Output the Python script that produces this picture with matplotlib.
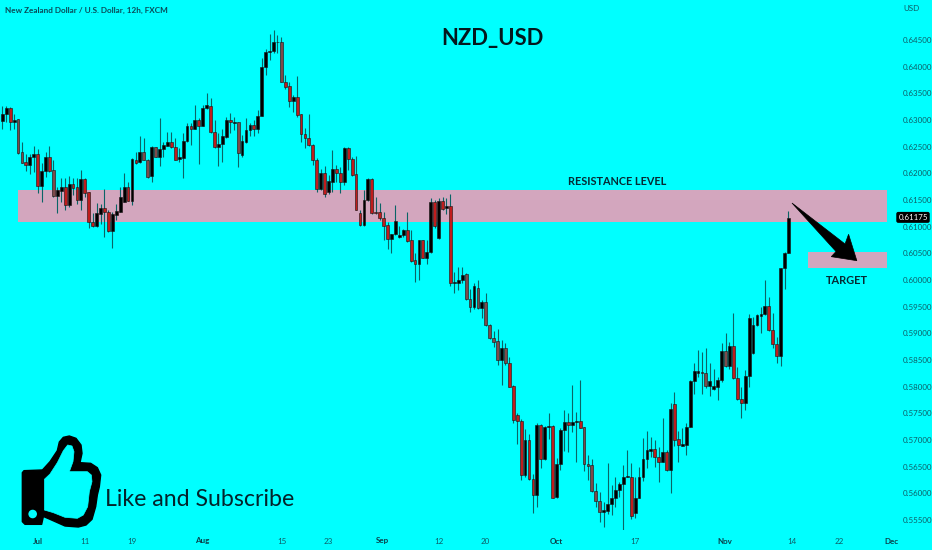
import numpy as np
import matplotlib
matplotlib.use("Agg")
import matplotlib.pyplot as plt
from matplotlib.patches import Polygon, Rectangle, Circle
from matplotlib.transforms import blended_transform_factory

# Prices in pips (1/10000 of a dollar), one candle every 12h
opens = [6298,6311,6322,6297,6302,6240,6221,6216,6231,6237,
6177,6204,6230,6206,6157,6167,6174,6141,6181,6174,
6151,6189,6165,6109,6101,6124,6136,6127,6092,6122,
6128,6147,6174,6149,6226,6221,6241,6226,6195,6249,
6231,6246,6252,6259,6250,6227,6229,6261,6289,6284,
6301,6289,6322,6327,6277,6249,6256,6269,6301,6295,
6296,6234,6259,6281,6290,6283,6308,6400,6427,6429,
6446,6447,6372,6364,6336,6344,6311,6274,6267,6254,
6226,6171,6200,6165,6184,6209,6200,6183,6247,6227,
6198,6125,6103,6150,6190,6128,6127,6117,6103,6077,
6086,6080,6084,6093,6075,6037,6030,6075,6041,6053,
6146,6078,6149,6136,6139,5994,5994,6000,6011,5964,
5950,5985,5947,5959,5916,5891,5885,5850,5873,5844,
5801,5746,5736,5634,5700,5626,5596,5728,5664,5725,
5726,5594,5655,5719,5733,5728,5734,5736,5724,5655,
5653,5605,5586,5565,5567,5580,5592,5606,5617,5631,
5631,5564,5592,5631,5664,5680,5683,5668,5659,5678,
5644,5768,5701,5689,5691,5725,5811,5826,5827,5826,
5802,5795,5800,5812,5867,5839,5876,5817,5777,5770,
5821,5864,5916,5933,5936,5952,5906,5880,5858,6022,
6051]
closes = [6312,6322,6297,6301,6239,6220,6216,6231,6237,6177,
6205,6230,6205,6158,6168,6174,6141,6181,6173,6151,
6189,6164,6109,6101,6125,6136,6127,6092,6124,6130,
6156,6174,6149,6227,6219,6241,6226,6194,6249,6231,
6246,6253,6259,6249,6226,6230,6261,6289,6284,6301,
6289,6322,6328,6277,6249,6256,6270,6301,6297,6297,
6239,6260,6281,6290,6283,6308,6400,6427,6429,6446,
6447,6372,6362,6336,6344,6309,6274,6267,6254,6226,
6171,6200,6162,6185,6209,6200,6183,6247,6227,6197,
6132,6103,6151,6189,6125,6125,6116,6101,6077,6086,
6110,6084,6094,6074,6036,6030,6075,6042,6053,6146,
6102,6148,6134,6139,5995,5996,6000,6009,5964,5950,
5988,5947,5958,5916,5891,5884,5851,5872,5844,5800,
5737,5736,5634,5700,5626,5596,5728,5665,5725,5726,
5592,5655,5719,5733,5728,5734,5736,5723,5655,5651,
5604,5586,5565,5569,5580,5592,5606,5617,5631,5632,
5558,5592,5631,5664,5681,5683,5668,5659,5677,5644,
5758,5700,5691,5692,5725,5811,5830,5830,5826,5802,
5811,5801,5812,5867,5839,5876,5817,5776,5770,5821,
5928,5916,5934,5936,5952,5906,5880,5858,6022,6051,
6117]
highs = [6326,6326,6324,6312,6302,6259,6237,6236,6252,6245,
6219,6241,6252,6226,6175,6191,6191,6195,6192,6192,
6206,6192,6166,6126,6145,6142,6171,6131,6128,6142,
6175,6200,6184,6228,6241,6271,6266,6227,6251,6250,
6303,6259,6278,6278,6267,6247,6276,6294,6294,6328,
6303,6328,6351,6342,6301,6275,6284,6306,6314,6306,
6297,6272,6303,6294,6301,6319,6416,6433,6462,6469,
6459,6455,6384,6372,6347,6382,6312,6286,6312,6256,
6228,6209,6214,6197,6244,6216,6212,6250,6250,6231,
6232,6132,6169,6191,6191,6156,6145,6128,6109,6087,
6141,6101,6095,6128,6094,6050,6076,6076,6076,6153,
6150,6153,6156,6153,6161,6016,6024,6025,6014,5984,
5994,6001,5962,5975,5918,5904,5909,5888,5882,5855,
5803,5750,5739,5720,5712,5637,5731,5730,5726,5750,
5728,5666,5722,5757,5751,5804,5753,5813,5725,5672,
5664,5619,5603,5584,5656,5616,5631,5622,5653,5681,
5657,5631,5650,5704,5717,5706,5700,5687,5741,5681,
5770,5791,5716,5722,5731,5812,5844,5869,5866,5872,
5844,5834,5819,5882,5901,5884,5939,5837,5799,5831,
5936,5931,5936,5950,6000,5969,5938,5894,6023,6053,
6130]
lows = [6284,6297,6281,6283,6237,6219,6205,6199,6203,6164,
6147,6194,6203,6156,6125,6147,6131,6137,6159,6142,
6131,6156,6097,6099,6100,6106,6081,6091,6061,6112,
6127,6146,6148,6141,6217,6219,6225,6192,6184,6230,
6214,6231,6251,6247,6225,6221,6192,6259,6253,6283,
6217,6288,6321,6276,6247,6214,6222,6267,6276,6281,
6212,6230,6257,6270,6270,6275,6307,6384,6412,6425,
6425,6371,6359,6325,6316,6306,6259,6247,6251,6216,
6166,6169,6156,6162,6166,6184,6164,6178,6206,6196,
6131,6101,6102,6149,6124,6124,6112,6075,6059,6050,
6084,6078,6081,6072,6034,5997,6001,6041,6031,6050,
6097,6077,6131,6124,5989,5976,5981,5994,5963,5941,
5945,5946,5928,5914,5889,5875,5841,5804,5841,5799,
5731,5692,5625,5631,5625,5564,5574,5647,5662,5702,
5591,5592,5644,5679,5678,5715,5659,5722,5641,5625,
5603,5574,5547,5536,5562,5559,5575,5594,5528,5630,
5551,5553,5591,5624,5647,5669,5650,5622,5658,5641,
5600,5688,5658,5688,5672,5724,5787,5819,5787,5797,
5783,5794,5775,5809,5837,5834,5814,5775,5741,5756,
5800,5862,5914,5900,5934,5905,5872,5844,5839,5984,
6050]
faded_candles = [4,5,13,36,37,39,60,71,118,119,121,123,124,125,126,128,148,149,150,151,152,179,184]

xtick_pos = [9.1,21.0,33.0,50.8,71.1,82.9,96.7,111,122.8,140.9,161,183.8,200.9,212.9,226.3]
xtick_labels = ["Jul","11","19","Aug","15","23","Sep","12","20","Oct","17","Nov","14","22","Dec"]
month_labels = {"Jul","Aug","Sep","Oct","Nov","Dec"}
ytick_vals = [0.555+0.005*k for k in range(19)]

resistance = (0.61688, 0.61094)
target = (0.60526, 0.60231)
last_price = 0.61175

BG = "#00FFFF"
plt.rcParams["font.family"] = ["Lato", "DejaVu Sans"]

O, H, L, C = [np.array(a) / 1e4 for a in (opens, highs, lows, closes)]
x = np.arange(len(O))

fig = plt.figure(figsize=(9.32, 5.5), dpi=100, facecolor=BG)
ax = fig.add_axes([0, 20 / 550, 893 / 932, 530 / 550], facecolor=BG)
ax.set_xlim(-0.585, 226.6)
ax.set_ylim(0.55313, 0.65251)
for s in ax.spines.values():
    s.set_visible(False)

# Zones
ax.add_patch(Rectangle((4.0, resistance[1]), 221.0, resistance[0] - resistance[1],
                       fc="#D3A6BE", ec="none", zorder=1))
ax.add_patch(Rectangle((205.1, target[1]), 19.9, target[0] - target[1],
                       fc="#D3A6BE", ec="none", zorder=1))

# Candles
ax.vlines(x, L, H, color="#0A6466", lw=0.8, zorder=2)
down = C < O
colors = np.where(down, "#C01C1C", "#000000").astype(object)
colors[faded_candles] = "#7E4A4A"
ax.bar(x, np.abs(C - O), bottom=np.minimum(O, C), width=0.72, color=list(colors),
       edgecolor="#181010", linewidth=0.4, zorder=3)

# Arrow
arrow_x = [200.9, 214.4, 215.3, 217.4, 210.9, 212.1]
arrow_y = [0.61444, 0.60676, 0.60858, 0.60363, 0.60438, 0.60535]
ax.add_patch(Polygon(np.column_stack([arrow_x, arrow_y]), closed=True, fc="black", ec="black",
                     lw=0.5, zorder=5))

# Axes labels
ax.set_xticks(xtick_pos)
ax.set_xticklabels(xtick_labels)
ax.yaxis.tick_right()
ax.set_yticks(ytick_vals)
ax.set_yticklabels([f"{v:.5f}" for v in ytick_vals])
ax.tick_params(axis="x", length=0, pad=5.4, labelsize=5.8, colors="#0E5C66")
ax.tick_params(axis="y", length=0, pad=7, labelsize=5.7, colors="#0E5C66")
for lab in ax.get_xticklabels():
    if lab.get_text() in month_labels:
        lab.set_fontweight("bold")
        lab.set_color("#0A3F4A")

# Annotations
ax.text(214.9, 0.59997, "TARGET", ha="center", va="center", fontsize=7.9,
        fontweight="bold", color="#062A33", zorder=6)
ax.text(156.5, 0.61855, "RESISTANCE LEVEL", ha="center", va="center", fontsize=7.8,
        fontweight="bold", color="#062A33", zorder=6)
ax.text(124.6, 0.6453, "NZD_USD", ha="center", va="center", fontsize=15.8,
        fontweight="bold", color="#04181E", zorder=6)

tr = blended_transform_factory(ax.transAxes, ax.transData)
ax.text(913 / 893, last_price, "0.61175", transform=tr, ha="center", va="center", fontsize=5.7,
        color="white", zorder=8, clip_on=False,
        bbox=dict(boxstyle="round,pad=0.25", fc="black", ec="black", lw=0))

fig.text(5 / 932, 1 - 10.5 / 550, "New Zealand Dollar / U.S. Dollar, 12h, FXCM", fontsize=5.9,
         fontweight="bold", color="#0A4A58", va="center", ha="left")
fig.text(903 / 932, 1 - 8.5 / 550, "USD", fontsize=5.8, color="#0E5C66", va="center", ha="left")
fig.text(105 / 932, 1 - 499 / 550, "Like and Subscribe", fontsize=16.7, color="#04232B",
         va="center", ha="left")

# Thumbs-up icon, on a pixel-sized overlay
ov = fig.add_axes([0, 0, 1, 1], facecolor="none")
ov.set_xlim(0, 932)
ov.set_ylim(550, 0)
ov.axis("off")
def px(pts):
    return [(a / 3, 420 + b / 3) for a, b in pts]
outer = [(120,158),(150,125),(172,92),(178,66),(190,52),(208,48),(228,55),(243,75),(246,100),(240,128),
         (272,130),(292,143),(302,165),(298,200),(292,225),(287,260),(276,298),(258,315),(235,321),(195,318),
         (150,298),(120,285)]
inner = [(133,178),(150,162),(172,128),(190,92),(203,75),(216,78),(222,95),(219,125),(208,155),
         (262,155),(274,165),(276,185),(268,215),(263,260),(250,285),(232,295),(195,292),(160,278),(133,270)]
cuff = [(72,152),(125,150),(130,155),(130,290),(125,313),(75,313),(67,305),(67,158)]
ov.add_patch(Polygon(px(outer), closed=True, fc="black", ec="black", lw=1, joinstyle="round"))
ov.add_patch(Polygon(px(inner), closed=True, fc=BG, ec=BG, lw=0.5, joinstyle="round"))
ov.add_patch(Polygon(px(cuff), closed=True, fc="black", ec="black", lw=1, joinstyle="round"))
cx, cy = px([(98, 282)])[0]
ov.add_patch(Circle((cx, cy), 4.3, fc=BG, ec="none"))

fig.savefig("out.png", dpi=100, facecolor=BG)
